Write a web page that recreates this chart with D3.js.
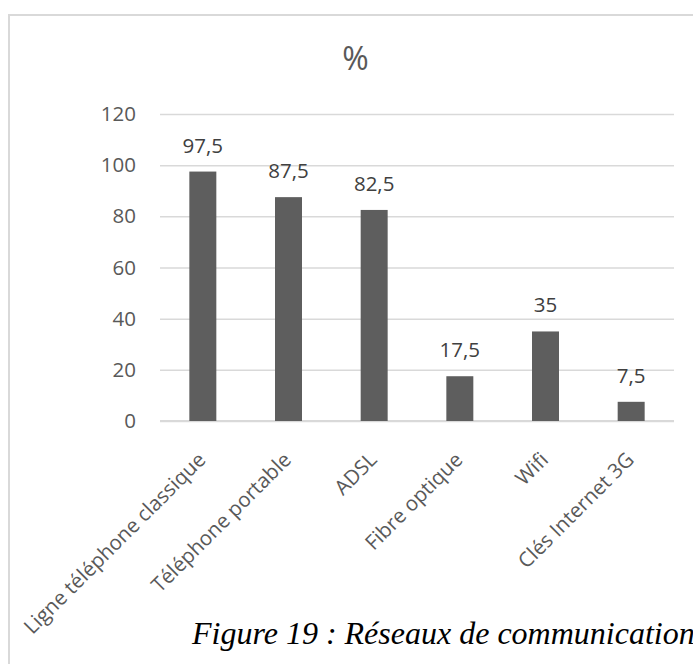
<!DOCTYPE html>
<html>
<head>
<meta charset="utf-8">
<script src="https://cdn.jsdelivr.net/npm/d3@7/dist/d3.min.js"></script>
<style>
  html, body { margin: 0; padding: 0; background: #fff; }
  svg { display: block; }
</style>
</head>
<body>
<svg id="chart" width="693" height="664"></svg>
<script>
const categories = ["Ligne téléphone classique", "Téléphone portable", "ADSL", "Fibre optique", "Wifi", "Clés Internet 3G"];
const values = [97.5, 87.5, 82.5, 17.5, 35, 7.5];
const yTicks = [0, 20, 40, 60, 80, 100, 120];
const title = "%";
const caption = "Figure 19 : Réseaux de communication";

const svg = d3.select("#chart");
const plot = { left: 160, right: 674, top: 114, bottom: 421 };

// outer frame
svg.append("rect")
  .attr("x", 9).attr("y", 15)
  .attr("width", 720).attr("height", 700)
  .attr("fill", "#fff")
  .attr("stroke", "#d9d9d9").attr("stroke-width", 2);

const x = d3.scaleBand()
  .domain(categories)
  .range([plot.left, plot.right])
  .paddingInner(0.685)
  .paddingOuter(0.3425);

const y = d3.scaleLinear()
  .domain([0, 120])
  .range([plot.bottom, plot.top]);

const font = "'Open Sans', 'Noto Sans', sans-serif";
const fs = "20.5px";

// y axis with gridlines
const yAxis = d3.axisLeft(y)
  .tickValues(yTicks)
  .tickSize(-(plot.right - plot.left))
  .tickPadding(24)
  .tickFormat(d => d);

const gy = svg.append("g")
  .attr("transform", `translate(${plot.left},0)`)
  .call(yAxis);
gy.select(".domain").remove();
gy.selectAll(".tick line")
  .attr("stroke", "#d9d9d9")
  .attr("stroke-width", 1.5);
gy.selectAll(".tick text")
  .attr("fill", "#595959")
  .style("font-family", font)
  .style("font-size", fs);

// x baseline
svg.append("line")
  .attr("x1", plot.left).attr("x2", plot.right)
  .attr("y1", y(0)).attr("y2", y(0))
  .attr("stroke", "#d9d9d9").attr("stroke-width", 2);

// bars
svg.append("g").selectAll("rect")
  .data(values)
  .join("rect")
  .attr("x", (d, i) => x(categories[i]))
  .attr("width", x.bandwidth())
  .attr("y", d => y(d))
  .attr("height", d => y(0) - y(d))
  .attr("fill", "#5e5e5e");

// value labels
svg.append("g").selectAll("text")
  .data(values)
  .join("text")
  .attr("x", (d, i) => x(categories[i]) + x.bandwidth() / 2)
  .attr("y", d => y(d) - 19)
  .attr("text-anchor", "middle")
  .attr("fill", "#404040")
  .style("font-family", font)
  .style("font-size", fs)
  .text(d => String(d).replace(".", ","));

// category labels
svg.append("g").selectAll("text")
  .data(categories)
  .join("text")
  .attr("transform", d => `translate(${x(d) + x.bandwidth() / 2 + 4},461) rotate(-45)`)
  .attr("text-anchor", "end")
  .attr("fill", "#595959")
  .style("font-family", font)
  .style("font-size", fs)
  .text(d => d);

// title
svg.append("text")
  .attr("x", 355.5).attr("y", 70)
  .attr("text-anchor", "middle")
  .attr("fill", "#595959")
  .style("font-family", font)
  .style("font-size", "32px")
  .text(title);

// caption
svg.append("text")
  .attr("x", 192).attr("y", 644)
  .attr("fill", "#000")
  .style("font-family", "'Liberation Serif', 'Times New Roman', serif")
  .style("font-style", "italic")
  .style("font-size", "32px")
  .text(caption);
</script>
</body>
</html>
